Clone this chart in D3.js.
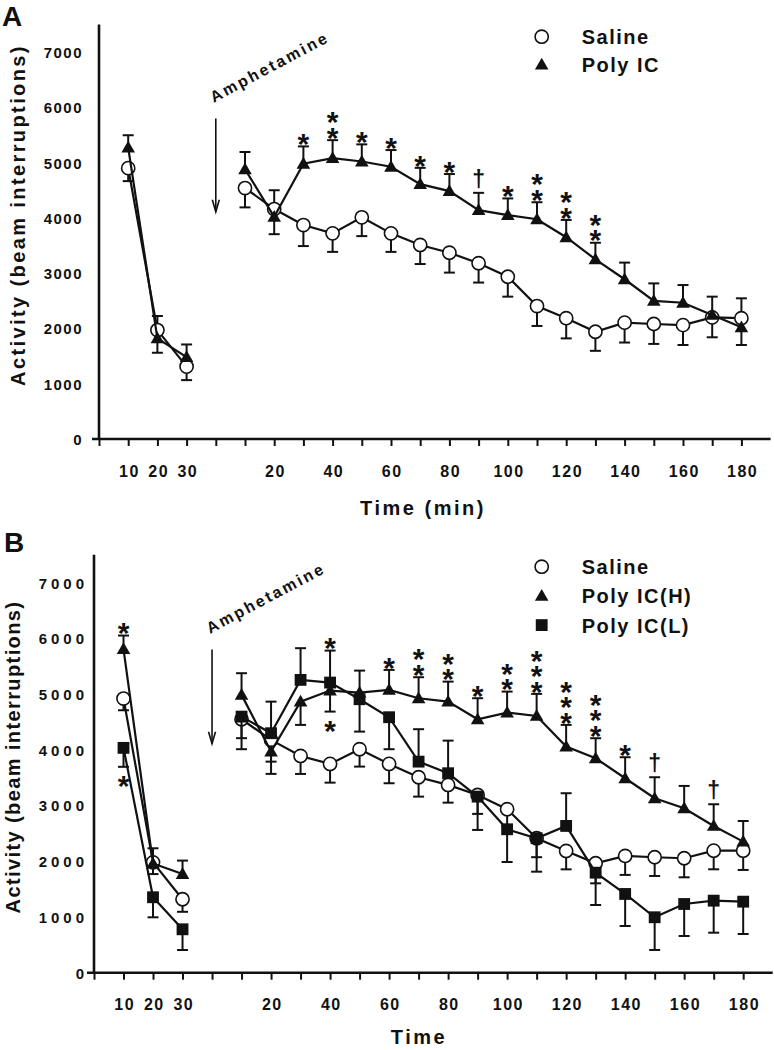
<!DOCTYPE html>
<html><head><meta charset="utf-8">
<script src="https://cdn.jsdelivr.net/npm/d3@7"></script>
<style>
body{margin:0;background:#fff;}
svg text{font-family:"Liberation Sans",Arial,sans-serif;font-weight:bold;fill:#111;}
</style></head><body>
<svg id="chart" width="774" height="1050"></svg>
<script>
// ---------- shared categories / ticks ----------
const preTimes = [10, 20, 30];
const postTimes = [10, 20, 30, 40, 50, 60, 70, 80, 90, 100, 110, 120, 130, 140, 150, 160, 170, 180];
const preTickLabels = ["10", "20", "30"];
const postTickLabels = ["20", "40", "60", "80", "100", "120", "140", "160", "180"];
const yTicks = [0, 1000, 2000, 3000, 4000, 5000, 6000, 7000];

// ---------- Panel A ----------
const salineA_pre = [4900, 1970, 1310];
const salineA_preErr = [235, 255, 245];
const salineA_preDir = [-1, 1, -1];
const polyA_pre = [5270, 1820, 1480];
const polyA_preErr = [225, 260, 230];
const polyA_preDir = [1, -1, 1];

const salineA_post = [4540, 4160, 3870, 3720, 4010, 3720, 3510, 3370, 3180, 2935, 2405, 2185, 1940, 2105, 2080, 2060, 2200, 2185];
const salineA_postErr = [350, 340, 380, 335, 340, 335, 345, 360, 350, 360, 360, 365, 345, 360, 360, 360, 360, 360];
const salineA_postDir = [-1, 1, -1, -1, -1, -1, -1, -1, -1, -1, -1, -1, -1, -1, -1, -1, -1, 1];
const polyA_post = [4880, 4020, 4980, 5080, 5020, 4925, 4610, 4485, 4140, 4050, 3975, 3650, 3250, 2890, 2500, 2465, 2245, 2020];
const polyA_postErr = [312, 315, 313, 326, 310, 302, 295, 308, 313, 302, 308, 313, 300, 301, 315, 320, 330, 320];
const polyA_postDir = [1, -1, 1, 1, 1, 1, 1, 1, 1, 1, 1, 1, 1, 1, 1, 1, 1, -1];
const polyA_postSig = ["", "", "*", "**", "*", "*", "*", "*", "†", "*", "**", "**", "**", "", "", "", "", ""];

// ---------- Panel B ----------
const salineB_pre = [4920, 1980, 1318];
const salineB_preErr = [210, 210, 225];
const salineB_preDir = [-1, -1, -1];
const polyH_pre = [5806, 1960, 1772];
const polyH_preErr = [245, 273, 240];
const polyH_preDir = [1, 1, 1];
const polyH_preSig = ["*", "", ""];
const polyL_pre = [4035, 1354, 779];
const polyL_preErr = [340, 360, 372];
const polyL_preDir = [-1, -1, -1];
const polyL_preSig = ["*", "", ""];

const salineB_post = [4549, 4178, 3890, 3747, 4011, 3747, 3508, 3370, 3190, 2934, 2413, 2185, 1964, 2095, 2072, 2054, 2190, 2190];
const salineB_postErr = [340, 390, 323, 336, 312, 347, 348, 318, 340, 300, 340, 330, 360, 340, 336, 342, 334, 346];
const salineB_postDir = [-1, -1, -1, -1, -1, -1, -1, -1, -1, -1, -1, -1, -1, -1, -1, -1, -1, -1];
const polyH_post = [4986, 3968, 4865, 5063, 5027, 5076, 4926, 4865, 4549, 4668, 4608, 4058, 3849, 3490, 3131, 2952, 2634, 2352];
const polyH_postErr = [389, 400, 418, 377, 395, 358, 377, 359, 377, 377, 396, 389, 359, 377, 377, 400, 389, 371];
const polyH_postDir = [1, -1, -1, -1, 1, 1, 1, 1, 1, 1, 1, 1, 1, 1, 1, 1, 1, 1];
const polyH_postSig = ["", "", "", "*", "", "*", "**", "**", "*", "**", "***", "***", "***", "*", "†", "", "†", ""];
const polyL_post = [4596, 4298, 5255, 5207, 4908, 4585, 3788, 3580, 3160, 2574, 2413, 2634, 1795, 1413, 995, 1233, 1293, 1275];
const polyL_postErr = [585, 567, 569, 574, 581, 574, 582, 585, 598, 587, 600, 587, 580, 575, 587, 574, 575, 580];
const polyL_postDir = [-1, 1, 1, 1, -1, -1, 1, 1, -1, -1, -1, 1, -1, -1, -1, -1, -1, -1];
const polyL_postSig = ["", "", "", "*", "", "", "", "", "", "", "", "", "", "", "", "", "", ""];

// ---------- helpers ----------
const svg = d3.select("#chart");
const preIndex = t => t / 10;
const postIndex = t => 4 + t / 10;

function seg(times, idxFn, vals, errs, dirs, sigs) {
  return times.map((t, k) => ({ i: idxFn(t), v: vals[k], e: errs[k], d: dirs[k], s: sigs ? sigs[k] : "" }));
}

function drawMarker(g, shape, cx, cy) {
  if (shape === "circle") {
    g.append("circle").attr("cx", cx).attr("cy", cy).attr("r", 6.6)
      .attr("fill", "#fff").attr("stroke", "#111").attr("stroke-width", 1.6);
  } else if (shape === "triangle") {
    g.append("path").attr("transform", `translate(${cx},${cy + 1})`)
      .attr("d", d3.symbol().type(d3.symbolTriangle).size(80)()).attr("fill", "#111");
  } else {
    g.append("path").attr("transform", `translate(${cx},${cy})`)
      .attr("d", d3.symbol().type(d3.symbolSquare).size(140)()).attr("fill", "#111");
  }
}

function drawPanel(cfg) {
  const g = svg.append("g");
  const x = d3.scaleLinear().domain([0, 23]).range([cfg.x0, cfg.x1]);
  const y = d3.scaleLinear().domain([0, 7500]).range([cfg.y0, cfg.y1]);

  // x axis
  const labelFor = i => {
    if (i >= 1 && i <= 3) return preTickLabels[i - 1];
    const t = (i - 4) * 10;
    const k = postTickLabels.indexOf(String(t));
    return k >= 0 ? postTickLabels[k] : "";
  };
  const xa = g.append("g").attr("transform", `translate(0,${cfg.y0})`)
    .call(d3.axisBottom(x).tickValues(d3.range(0, 23)).tickSize(7).tickFormat(labelFor));
  xa.select(".domain").remove();
  xa.selectAll(".tick line").attr("stroke", "#111").attr("stroke-width", 2);
  xa.selectAll(".tick text").attr("y", cfg.xLabelDy).attr("dy", 0)
    .style("font-size", "16px").style("letter-spacing", "1.5px")
    .attr("dx", 0.75);
  g.append("line").attr("x1", x(0) - 7).attr("x2", x(23)).attr("y1", cfg.y0).attr("y2", cfg.y0)
    .attr("stroke", "#111").attr("stroke-width", 2.6);

  // y axis
  const ya = g.append("g").attr("transform", `translate(${x(0)},0)`)
    .call(d3.axisLeft(y).tickValues(yTicks).tickSize(0).tickPadding(cfg.yPad).tickFormat(d3.format("d")));
  ya.select(".domain").remove();
  ya.selectAll(".tick text").style("font-size", "15px").style("letter-spacing", cfg.yLs + "px")
    .attr("dy", "0.36em");
  g.append("line").attr("x1", x(0)).attr("x2", x(0)).attr("y1", y(7500)).attr("y2", cfg.y0)
    .attr("stroke", "#111").attr("stroke-width", 2.6);

  // axis titles
  g.append("text").attr("transform", `translate(${cfg.yTitleX},${cfg.yTitleY}) rotate(-90)`)
    .attr("text-anchor", "middle").style("font-size", "20px").style("letter-spacing", cfg.yTitleLs + "px")
    .text("Activity (beam interruptions)");
  g.append("text").attr("x", cfg.xTitleX).attr("y", cfg.xTitleY).attr("text-anchor", "middle")
    .style("font-size", "20px").style("letter-spacing", "2.5px").text(cfg.xTitle);

  // panel letter
  g.append("text").attr("x", cfg.letterX).attr("y", cfg.letterY).style("font-size", "28px").text(cfg.letter);

  // amphetamine annotation
  g.append("text").attr("transform", `translate(${x(4) - 2},${y(6080)}) rotate(-28)`)
    .style("font-size", "16px").style("letter-spacing", "2.4px").text("Amphetamine");
  const ax = x(4), ayTop = y(5800), ayBot = y(4110);
  g.append("line").attr("x1", ax).attr("x2", ax).attr("y1", ayTop).attr("y2", ayBot)
    .attr("stroke", "#111").attr("stroke-width", 1.6);
  g.append("path").attr("d", `M${ax - 3.5},${ayBot - 12} L${ax},${ayBot} L${ax + 3.5},${ayBot - 12}`)
    .attr("fill", "none").attr("stroke", "#111").attr("stroke-width", 1.6);

  const line = d3.line().x(d => x(d.i)).y(d => y(d.v));

  cfg.series.forEach(s => {
    const sg = g.append("g");
    s.segments.forEach(pts => {
      pts.forEach(p => {
        const ye = y(p.v + p.d * p.e);
        sg.append("line").attr("x1", x(p.i)).attr("x2", x(p.i)).attr("y1", y(p.v)).attr("y2", ye)
          .attr("stroke", "#111").attr("stroke-width", 2);
        sg.append("line").attr("x1", x(p.i) - 5.5).attr("x2", x(p.i) + 5.5).attr("y1", ye).attr("y2", ye)
          .attr("stroke", "#111").attr("stroke-width", 2);
      });
      sg.append("path").datum(pts).attr("d", line).attr("fill", "none")
        .attr("stroke", "#111").attr("stroke-width", 2.2);
    });
    s.segments.forEach(pts => pts.forEach(p => drawMarker(sg, s.shape, x(p.i), y(p.v))));
    // significance marks: one text element per point, stacked with tspans
    s.segments.forEach(pts => pts.forEach(p => {
      if (!p.s) return;
      const ye = y(p.v + p.d * p.e);
      const chars = Array.from(p.s);
      const isDag = chars[0] === "†";
      const fs = isDag ? 23 : 30;
      const off = isDag ? 13 : 9;
      const cy = p.d > 0 ? ye - off : ye + off + 4;
      const base = cy + (isDag ? 0.3 : 0.555) * fs;
      const t = sg.append("text").attr("x", x(p.i)).attr("y", base).attr("text-anchor", "middle")
        .style("font-size", fs + "px");
      chars.forEach((c, k) => {
        t.append("tspan").attr("x", x(p.i)).attr("dy", k === 0 ? 0 : (p.d > 0 ? -15.5 : 15.5)).text(c);
      });
    }));
  });

  // legend
  cfg.legend.forEach((L, k) => {
    const ly = cfg.legendY + k * cfg.legendStep;
    drawMarker(g, L.shape, cfg.legendX, ly);
    g.append("text").attr("x", cfg.legendX + 40).attr("y", ly + 7.5)
      .style("font-size", "20px").style("letter-spacing", "1.5px").text(L.name);
  });
}

// ---------- Panel A ----------
drawPanel({
  letter: "A", letterX: 2, letterY: 26,
  x0: 99, x1: 770.6, y0: 439, y1: 24.4,
  xLabelDy: 38, yPad: 16, yLs: 1.5,
  yTitleX: 25, yTitleY: 215, yTitleLs: 2.4,
  xTitle: "Time (min)", xTitleX: 423, xTitleY: 515,
  legendX: 541.7, legendY: 36.7, legendStep: 28,
  legend: [{ shape: "circle", name: "Saline" }, { shape: "triangle", name: "Poly IC" }],
  series: [
    { shape: "circle", segments: [
      seg(preTimes, preIndex, salineA_pre, salineA_preErr, salineA_preDir, null),
      seg(postTimes, postIndex, salineA_post, salineA_postErr, salineA_postDir, null)] },
    { shape: "triangle", segments: [
      seg(preTimes, preIndex, polyA_pre, polyA_preErr, polyA_preDir, null),
      seg(postTimes, postIndex, polyA_post, polyA_postErr, polyA_postDir, polyA_postSig)] }
  ]
});

// ---------- Panel B ----------
drawPanel({
  letter: "B", letterX: 4, letterY: 552,
  x0: 94, x1: 772.7, y0: 972.7, y1: 554.8,
  xLabelDy: 37.3, yPad: 6, yLs: 4,
  yTitleX: 20, yTitleY: 757, yTitleLs: 1.4,
  xTitle: "Time", xTitleX: 419, xTitleY: 1044,
  legendX: 541.7, legendY: 566.7, legendStep: 29.2,
  legend: [{ shape: "circle", name: "Saline" }, { shape: "triangle", name: "Poly IC(H)" }, { shape: "square", name: "Poly IC(L)" }],
  series: [
    { shape: "circle", segments: [
      seg(preTimes, preIndex, salineB_pre, salineB_preErr, salineB_preDir, null),
      seg(postTimes, postIndex, salineB_post, salineB_postErr, salineB_postDir, null)] },
    { shape: "triangle", segments: [
      seg(preTimes, preIndex, polyH_pre, polyH_preErr, polyH_preDir, polyH_preSig),
      seg(postTimes, postIndex, polyH_post, polyH_postErr, polyH_postDir, polyH_postSig)] },
    { shape: "square", segments: [
      seg(preTimes, preIndex, polyL_pre, polyL_preErr, polyL_preDir, polyL_preSig),
      seg(postTimes, postIndex, polyL_post, polyL_postErr, polyL_postDir, polyL_postSig)] }
  ]
});
</script>
</body></html>
